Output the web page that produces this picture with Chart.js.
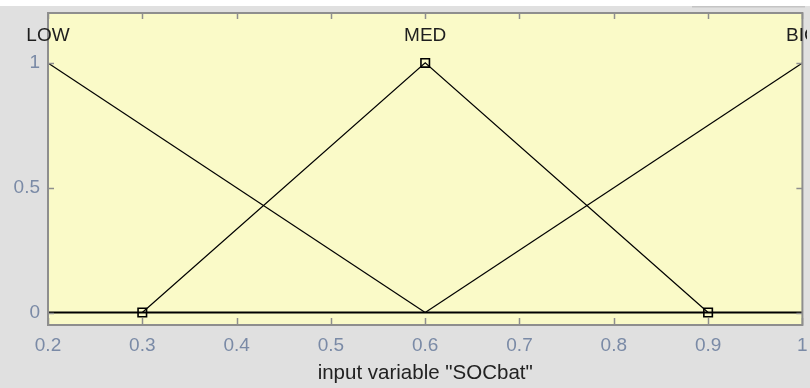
<!DOCTYPE html>
<html>
<head>
<meta charset="utf-8">
<script src="https://cdn.jsdelivr.net/npm/chart.js@4/dist/chart.umd.min.js"></script>
<style>
  html, body { margin: 0; padding: 0; background: #e0e0e0; }
  #wrap { width: 810px; height: 388px; position: relative; }
</style>
</head>
<body>
<div id="wrap"><canvas id="c" width="810" height="388"></canvas></div>
<script>
// ---- data ----
const xTicks = [0.2, 0.3, 0.4, 0.5, 0.6, 0.7, 0.8, 0.9, 1];
const yTicks = [0, 0.5, 1];
const mfNames = ['LOW', 'MED', 'BIG'];
const mfLabelX = [0.2, 0.6, 1.0];
const mfLabelY = [1.11, 1.11, 1.11];
const lowX = [0.2, 0.6];
const lowY = [1, 0];
const medX = [0.3, 0.6, 0.9];
const medY = [0, 1, 0];
const bigX = [0.6, 1.0];
const bigY = [0, 1];
const baseX = [0.2, 1.0];
const baseY = [0, 0];
const xTitle = 'input variable "SOCbat"';

const pts = (xs, ys) => xs.map((x, i) => ({ x: x, y: ys[i] }));
const FONT = "'Liberation Sans', Arial, sans-serif";

const decor = {
  id: 'decor',
  beforeDraw(chart) {
    const ctx = chart.ctx, a = chart.chartArea;
    ctx.save();
    ctx.fillStyle = '#e0e0e0';
    ctx.fillRect(0, 0, chart.width, chart.height);
    ctx.fillStyle = '#ffffff';
    ctx.fillRect(0, 0, chart.width, 6);
    ctx.fillStyle = '#c4c4c4';
    ctx.fillRect(692, 6, 113, 1.5);
    ctx.fillStyle = '#fafac8';
    ctx.fillRect(a.left, a.top, a.right - a.left, a.bottom - a.top);
    ctx.restore();
  },
  afterDatasetsDraw(chart) {
    const ctx = chart.ctx, a = chart.chartArea;
    const xs = chart.scales.x, ys = chart.scales.y;
    ctx.save();
    // inside tick marks
    ctx.strokeStyle = '#8e8e8e';
    ctx.lineWidth = 1.5;
    ctx.beginPath();
    xs.ticks.forEach(t => {
      const px = Math.round(xs.getPixelForValue(t.value)) + 0.5;
      ctx.moveTo(px, a.bottom); ctx.lineTo(px, a.bottom - 7);
      ctx.moveTo(px, a.top); ctx.lineTo(px, a.top + 6);
    });
    ys.ticks.forEach(t => {
      const py = Math.round(ys.getPixelForValue(t.value)) + 0.5;
      ctx.moveTo(a.left, py); ctx.lineTo(a.left + 6, py);
      ctx.moveTo(a.right, py); ctx.lineTo(a.right - 6, py);
    });
    ctx.stroke();
    // frame
    ctx.lineWidth = 2;
    ctx.strokeRect(a.left, a.top, a.right - a.left, a.bottom - a.top);
    // MF name labels
    ctx.beginPath();
    ctx.rect(0, 0, 807, chart.height);
    ctx.clip();
    ctx.fillStyle = '#1e1e1e';
    ctx.font = '19px ' + FONT;
    ctx.textAlign = 'center';
    ctx.textBaseline = 'middle';
    mfNames.forEach((n, i) => {
      ctx.fillText(n, xs.getPixelForValue(mfLabelX[i]), ys.getPixelForValue(mfLabelY[i]));
    });
    ctx.restore();
  }
};

const lineDs = (label, data, width, withPts) => ({
  label: label,
  data: data,
  showLine: true,
  borderColor: '#000000',
  borderWidth: width,
  pointRadius: withPts ? 6 : 0,
  pointStyle: 'rect',
  pointBorderColor: '#000000',
  pointBackgroundColor: 'rgba(0,0,0,0)',
  pointBorderWidth: 1.6,
  clip: false,
  fill: false,
  tension: 0
});

const noPad = s => { s.paddingLeft = 0; s.paddingRight = 0; s.paddingTop = 0; s.paddingBottom = 0; };

new Chart(document.getElementById('c'), {
  type: 'scatter',
  data: {
    datasets: [
      lineDs('base', pts(baseX, baseY), 2, false),
      lineDs('LOW', pts(lowX, lowY), 1.2, false),
      lineDs('BIG', pts(bigX, bigY), 1.2, false),
      lineDs('MED', pts(medX, medY), 1.2, true)
    ]
  },
  options: {
    responsive: false,
    animation: false,
    devicePixelRatio: 1,
    layout: { padding: { top: 13, right: 5, left: 0, bottom: 0 } },
    plugins: { legend: { display: false }, tooltip: { enabled: false } },
    scales: {
      x: {
        type: 'linear',
        min: 0.2, max: 1,
        afterBuildTicks: s => { s.ticks = xTicks.map(v => ({ value: v })); },
        afterFit: s => { s.height = 63; noPad(s); },
        grid: { display: false, drawTicks: false },
        border: { display: false },
        ticks: {
          padding: 9,
          color: '#7a8aa6',
          font: { family: FONT, size: 19 },
          maxRotation: 0,
          autoSkip: false,
          callback: v => String(+Number(v).toFixed(2))
        },
        title: {
          display: true,
          text: xTitle,
          color: '#222222',
          font: { family: FONT, size: 20.5 },
          padding: { top: 0, bottom: 2 }
        }
      },
      y: {
        type: 'linear',
        min: -0.05, max: 1.2,
        afterBuildTicks: s => { s.ticks = yTicks.map(v => ({ value: v })); },
        afterFit: s => { s.width = 48; noPad(s); },
        grid: { display: false, drawTicks: false },
        border: { display: false },
        ticks: {
          padding: 8,
          color: '#7a8aa6',
          font: { family: FONT, size: 19 },
          autoSkip: false,
          callback: v => String(+Number(v).toFixed(2))
        }
      }
    }
  },
  plugins: [decor]
});
</script>
</body>
</html>
